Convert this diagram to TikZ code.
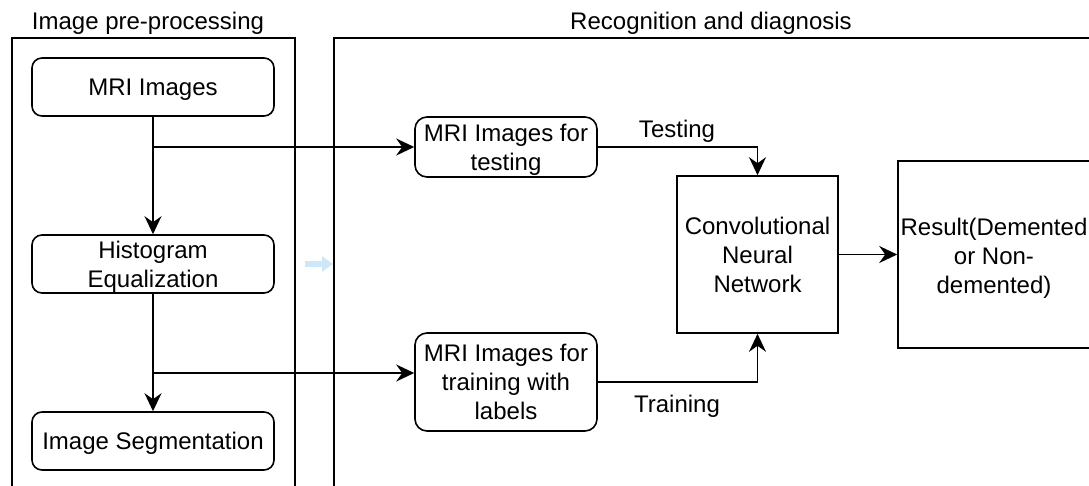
\documentclass[tikz,border=0pt]{standalone}
\usepackage{fontspec}
\setmainfont{Liberation Sans}
\usetikzlibrary{arrows.meta,calc}
\definecolor{faint}{RGB}{205,232,248}
\begin{document}
\begin{tikzpicture}[x=1pt,y=-1pt,
  every node/.style={font=\fontsize{24}{29}\selectfont, align=center, inner sep=0pt, text depth=0pt},
  rbox/.style={draw, line width=1.6pt, rounded corners=10pt},
  sbox/.style={draw, line width=1.6pt},
  frame/.style={draw, line width=1.6pt},
  arr/.style={line width=1.6pt, -{Stealth[length=18pt,width=17pt,inset=6pt]}},
  ln/.style={line width=1.6pt}]
\useasboundingbox (0,0) rectangle (1089,485);
\clip (0,0) rectangle (1089,485);
% frames
\draw[frame] (12,38) rectangle (295,495);
\draw[frame] (334,38) rectangle (1100,495);
\node (t1) at (148,21) {Image pre-processing};
\node (t2) at (711,21) {Recognition and diagnosis};
% left column
\node[rbox, minimum width=242pt, minimum height=58pt] (mri) at (153,87) {MRI Images};
\node[rbox, minimum width=242pt, minimum height=58pt] (hist) at (153,264) {Histogram\\Equalization};
\node[rbox, minimum width=242pt, minimum height=58pt] (seg) at (153,441) {Image Segmentation};
% middle
\node[rbox, rounded corners=12pt, minimum width=182pt, minimum height=60pt] (test) at (506,147) {MRI Images for\\testing};
\node[rbox, rounded corners=12pt, minimum width=182pt, minimum height=98pt] (train) at (506,382) {MRI Images for\\training with\\labels};
\node[sbox, minimum width=161pt, minimum height=157pt] (cnn) at (757.5,254.5) {Convolutional\\Neural\\Network};
\node[sbox, minimum width=200pt, minimum height=187pt] (res) at (998,254.5) {};
\node (restext) at (994,256) {Result(Demented\\or Non-\\demented)};
% connectors
\draw[arr] (mri) -- (hist);
\draw[arr] (hist) -- (seg);
\coordinate (b1) at (153,147);
\coordinate (b2) at (153,373);
\draw[arr] (b1) -- (b1 -| test.west);
\draw[arr] (b2) -- (b2 -| train.west);
\draw[arr] (test.east) -| (cnn.north);
\draw[arr] (train.east) -| (cnn.south);
\draw[arr] (cnn.east) -- (res.west);
\node (lt) at (677,129) {Testing};
\node (ltr) at (677,404) {Training};
% faint arrow
\coordinate (f1) at (305,264);
\coordinate (f2) at (333,264);
\draw[faint, line width=6pt, -{Triangle[length=11pt,width=15pt]}] (f1) -- (f2);
\end{tikzpicture}
\end{document}
